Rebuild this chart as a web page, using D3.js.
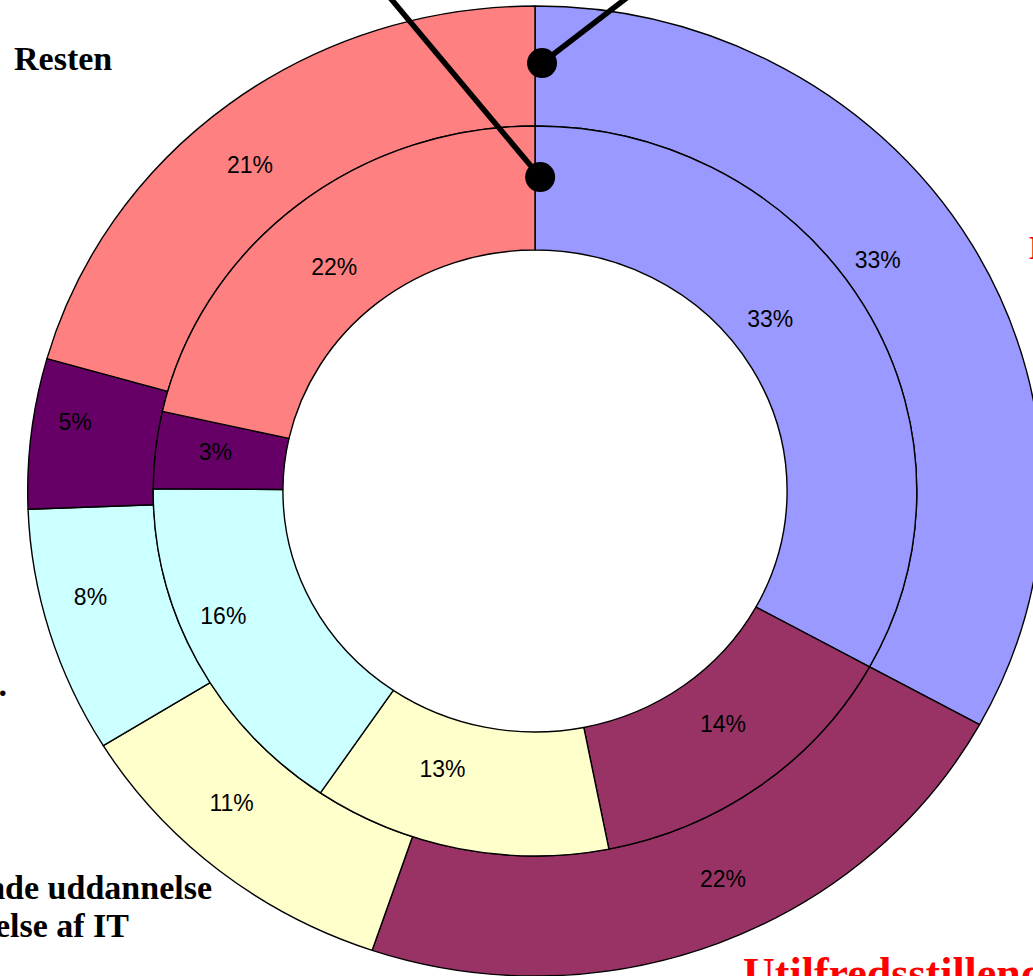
<!DOCTYPE html>
<html>
<head>
<meta charset="utf-8">
<script src="https://cdn.jsdelivr.net/npm/d3@7"></script>
<style>
  html, body { margin: 0; padding: 0; background: #ffffff; overflow: hidden; }
  svg { display: block; }
</style>
</head>
<body>
<svg id="chart" width="1033" height="976"></svg>
<script>
// ---- data ----
const categories = ["Blå", "Utilfredsstillende", "Manglende uddannelse", "Cyan", "Lilla", "Resten"];
const innerValues = [33.0, 13.9, 12.6, 15.6, 3.4, 21.5];
const outerValues = [33.0, 22.2, 11.0, 8.2, 5.0, 20.6];
const colors = ["#9999FF", "#993366", "#FFFFCC", "#CCFFFF", "#660066", "#FF8080"];

// ---- layout ----
const W = 1033, H = 976;
const cx = 535, cy = 491;
const sx = 1.046;           // horizontal stretch of the plot
const rHole = 241, rMid = 365, rOuter = 485;
// label placement tweaks (degrees along the ring, pixels across it)
const outerLabelNudge = { deg: [-4.6, -3.6, 4.4, 2.9, 2.1, -2.8], r: [-24, 3, 1, 13, 20, 0] };
const innerLabelNudge = { deg: [-6.8, -1.5, 6.1, 5.0, 0.8, -1.9], r: [-20, -9, -11, 20, 5, -8] };

const svg = d3.select("#chart");

const pie = d3.pie().sort(null).value(d => d).startAngle(0).endAngle(2 * Math.PI);

const plot = svg.append("g").attr("transform", `translate(${cx},${cy}) scale(${sx},1)`);

function ring(values, r0, r1, cls, nudge) {
  const arc = d3.arc().innerRadius(r0).outerRadius(r1);
  const arcs = pie(values);
  plot.selectAll("path." + cls)
    .data(arcs)
    .join("path")
    .attr("class", cls)
    .attr("d", arc)
    .attr("fill", (d, i) => colors[i])
    .attr("stroke", "#000")
    .attr("stroke-width", 1.4)
    .attr("vector-effect", "non-scaling-stroke")
    .attr("stroke-linejoin", "round");
  const mid = (r0 + r1) / 2;
  const ang = (d, i) => (d.startAngle + d.endAngle) / 2 + nudge.deg[i] * Math.PI / 180;
  const rad = (d, i) => mid + nudge.r[i];
  svg.selectAll("text." + cls)
    .data(arcs)
    .join("text")
    .attr("class", cls)
    .attr("x", (d, i) => cx + sx * rad(d, i) * Math.sin(ang(d, i)))
    .attr("y", (d, i) => cy - rad(d, i) * Math.cos(ang(d, i)))
    .attr("text-anchor", "middle")
    .attr("dominant-baseline", "central")
    .attr("font-family", "Liberation Sans, Arial, sans-serif")
    .attr("font-size", 23)
    .attr("fill", "#000")
    .text(d => Math.round(d.data) + "%");
  return arcs;
}

ring(outerValues, rMid, rOuter, "outer", outerLabelNudge);
ring(innerValues, rHole, rMid, "inner", innerLabelNudge);

// ---- leader lines to off-canvas labels ----
const leaderAngle = 0.9 * Math.PI / 180;
const leaders = [
  { r: (rMid + rOuter) / 2 + 3, dx: 165, dy: -127 },
  { r: (rHole + rMid) / 2 + 11, dx: -185, dy: -221 }
];
leaders.forEach(l => {
  const x0 = cx + sx * l.r * Math.sin(leaderAngle);
  const y0 = cy - l.r * Math.cos(leaderAngle);
  svg.append("line")
    .attr("x1", x0).attr("y1", y0)
    .attr("x2", x0 + l.dx).attr("y2", y0 + l.dy)
    .attr("stroke", "#000").attr("stroke-width", 5.5);
  svg.append("circle")
    .attr("cx", x0).attr("cy", y0).attr("r", 15)
    .attr("fill", "#000");
});

// ---- category texts (partly outside the view) ----
const serif = "Liberation Serif, Times New Roman, serif";
function label(txt, x, y, anchor, color, size) {
  svg.append("text")
    .attr("x", x).attr("y", y)
    .attr("text-anchor", anchor)
    .attr("font-family", serif)
    .attr("font-weight", "bold")
    .attr("font-size", size)
    .attr("fill", color)
    .text(txt);
}
label("Resten", 14, 70, "start", "#000", 34);
label("Manglende uddannelse", 212, 899, "end", "#000", 34);
label("i anvendelse af IT", 129, 937, "end", "#000", 34);
label("Utilfredsstillende", 743, 988, "start", "#FF0000", 44);
label("Dårlig", 1029, 259, "start", "#FF0000", 33);
label("Andet.", 7, 696, "end", "#000", 34);
</script>
</body>
</html>
